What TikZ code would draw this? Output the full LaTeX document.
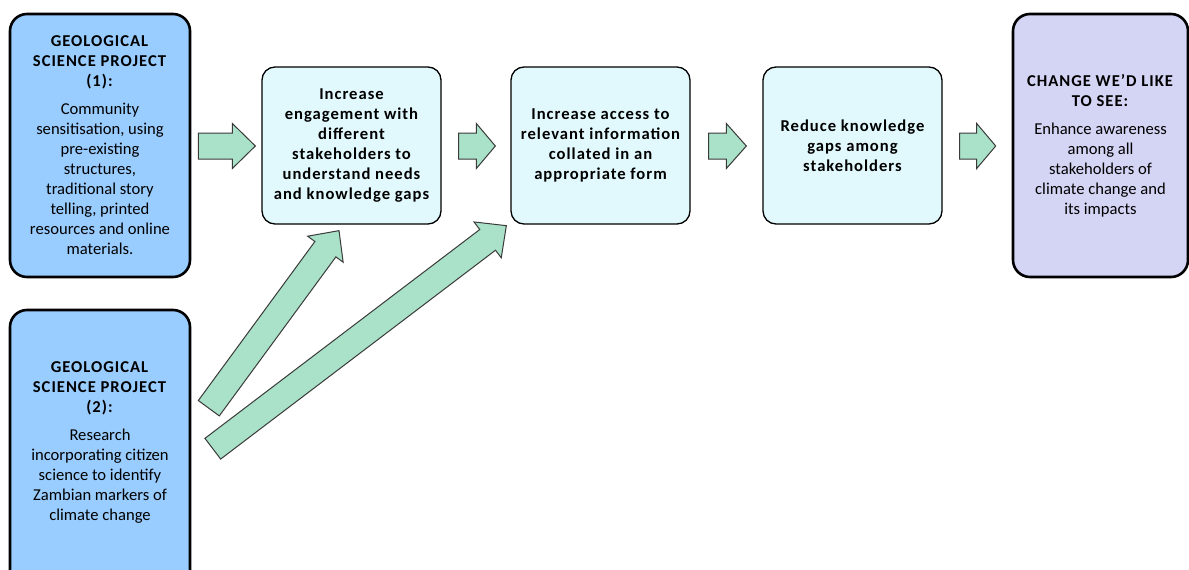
\documentclass[tikz,border=0pt]{standalone}
\usepackage{fontspec}
\setmainfont{Carlito}[BoldFeatures={LetterSpace=6}]
\usetikzlibrary{calc}
\definecolor{projblue}{HTML}{99CCFF}
\definecolor{stepcyan}{HTML}{E1F9FD}
\definecolor{goallav}{HTML}{D4D4F4}
\definecolor{arrowmint}{HTML}{A9E2C8}
\definecolor{arrowline}{HTML}{3A3A3A}
\newcommand\diagfont{\fontsize{16.6pt}{20pt}\selectfont}
\tikzset{
  projbox/.style={draw=black, line width=2.6pt, fill=projblue, rounded corners=17pt,
    minimum width=180pt, inner sep=0pt, align=center},
  stepbox/.style={draw=black, line width=1.3pt, fill=stepcyan, rounded corners=13pt,
    minimum width=179pt, minimum height=157pt, inner sep=0pt, align=center,
    font=\diagfont\bfseries},
  goalbox/.style={draw=black, line width=2.6pt, fill=goallav, rounded corners=17pt,
    minimum width=175pt, minimum height=263pt, inner sep=0pt, align=center},
  txt/.style={inner sep=0pt, align=center},
  blockarrowstyle/.style={draw=arrowline, line width=1pt, fill=arrowmint, line join=miter},
}
\newcommand\blockarrow[5]{%
  \coordinate (ba-base) at ($(#2)!#5!(#1)$);
  \draw[blockarrowstyle]
    ($(#1)!#3!90:(#2)$) -- ($(ba-base)!#3!90:(#2)$) -- ($(ba-base)!#4!90:(#2)$) --
    (#2) -- ($(ba-base)!#4!-90:(#2)$) -- ($(ba-base)!#3!-90:(#2)$) --
    ($(#1)!#3!-90:(#2)$) -- cycle;
}
\begin{document}
\begin{tikzpicture}[x=1pt, y=-1pt, font=\diagfont]
\useasboundingbox (0,0) rectangle (1189,570);
\clip (0,0) rectangle (1189,570);
\fill[white] (0,0) rectangle (1189,570);

% project boxes
\node[projbox, minimum height=263pt] (box1) at (100,145.5)
  {\textbf{GEOLOGICAL}\\\textbf{SCIENCE PROJECT}\\\textbf{(1):}\\[8pt]Community\\sensitisation, using\\pre-existing\\structures,\\traditional story\\telling, printed\\resources and online\\materials.};
\node[projbox, minimum height=290pt] (box2) at (100,455) {};
\node[txt] (box2txt) at (100,442)
  {\textbf{GEOLOGICAL}\\\textbf{SCIENCE PROJECT}\\\textbf{(2):}\\[8pt]Research\\incorporating citizen\\science to identify\\Zambian markers of\\climate change};

% steps
\node[stepbox] (box3) at (351.5,145.5)
  {Increase\\engagement with\\different\\stakeholders to\\understand needs\\and knowledge gaps};
\node[stepbox] (box4) at (600.5,145.5)
  {Increase access to\\relevant information\\collated in an\\appropriate form};
\node[stepbox] (box5) at (852.5,145.5)
  {Reduce knowledge\\gaps among\\stakeholders};

% goal
\node[goalbox] (box6) at (1100.5,145.5)
  {\textbf{CHANGE WE’D LIKE}\\\textbf{TO SEE:}\\[8pt]Enhance awareness\\among all\\stakeholders of\\climate change and\\its impacts};

% horizontal block arrows
\coordinate (a1t) at ($(box1.east)+(7,0.5)$);
\coordinate (a1h) at ($(box3.west)+(-6,0.5)$);
\coordinate (a2t) at ($(box3.east)+(17,0.5)$);
\coordinate (a2h) at ($(box4.west)+(-15,0.5)$);
\coordinate (a3t) at ($(box4.east)+(18,0.5)$);
\coordinate (a3h) at ($(box5.west)+(-16,0.5)$);
\coordinate (a4t) at ($(box5.east)+(17,0.5)$);
\coordinate (a4h) at ($(box6.west)+(-16,0.5)$);
\blockarrow{a1t}{a1h}{13pt}{22.5pt}{23pt}
\blockarrow{a2t}{a2h}{13pt}{22.5pt}{19pt}
\blockarrow{a3t}{a3h}{13pt}{22.5pt}{20pt}
\blockarrow{a4t}{a4h}{13pt}{22.5pt}{19pt}

% diagonal block arrows
\coordinate (d1t) at ($(box2.north east)+(17.5,99.5)$);
\coordinate (d1h) at ($(box3.south)+(-12.5,6)$);
\coordinate (d2t) at ($(box2.north east)+(21.5,140)$);
\coordinate (d2h) at ($(box4.south west)+(-4,1)$);
\blockarrow{d1t}{d1h}{13pt}{22pt}{23pt}
\blockarrow{d2t}{d2h}{13pt}{22.5pt}{23.5pt}
\end{tikzpicture}
\end{document}
